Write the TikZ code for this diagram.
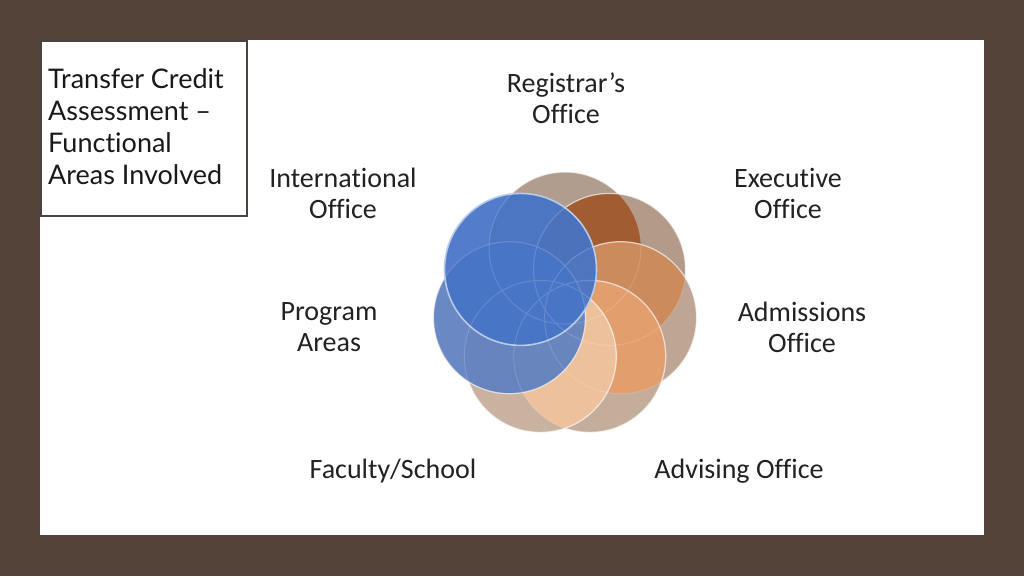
\documentclass[tikz,border=0pt]{standalone}
\usepackage{fontspec}
\setmainfont{Carlito}[Ligatures={TeX,NoCommon,NoRare,NoContextual}]
\newfontfamily\titlefont{Lato}[Ligatures={TeX,NoCommon,NoRare,NoContextual}]
\definecolor{slide}{HTML}{534339}
\definecolor{boxline}{HTML}{4A4440}
\definecolor{ink}{HTML}{222222}
\definecolor{regtan}{HTML}{B09D8E}
\definecolor{exetan}{HTML}{B49A88}
\definecolor{exeover}{HTML}{A15D31}
\definecolor{admtan}{HTML}{BFA594}
\definecolor{admover}{HTML}{CB8B5D}
\definecolor{advtan}{HTML}{C5AD9C}
\definecolor{advover}{HTML}{E39E6D}
\definecolor{factan}{HTML}{C9B2A0}
\definecolor{facover}{HTML}{EEC19D}
\definecolor{prgblue}{HTML}{6282C0}
\definecolor{intblue}{HTML}{4674C7}
\definecolor{intrim}{HTML}{B8CAEA}
\tikzset{
  areaname/.style={inner sep=0pt, align=center, text=ink,
    font=\fontsize{28}{31}\selectfont},
  petal/.style={draw=white, draw opacity=0.6, line width=1.2pt},
}
\begin{document}
\begin{tikzpicture}[x=1pt, y=-1pt]
    \useasboundingbox (0,0) rectangle (1024,576);
    \fill [slide] (0,0) rectangle (1024,576);
    \fill [white] (40,40) rectangle (984,535);
    \draw [fill=white, draw=boxline, line width=2.5pt] (41,41) rectangle (247,216);
    \node [inner sep=0pt, anchor=north west, align=left, text=black!90,
      font=\titlefont\fontsize{27}{32}\selectfont] at (48,68) (title)
      {Transfer Credit\\Assessment –\\Functional\\Areas Involved};

    \coordinate (reg) at (565,248);
    \coordinate (exe) at (609.5,269.4);
    \coordinate (adm) at (620.6,317.7);
    \coordinate (adv) at (589.7,356.4);
    \coordinate (fac) at (540.3,356.4);
    \coordinate (prg) at (509.4,317.7);
    \coordinate (int) at (520.5,269.4);

    % registrar
    \fill [regtan] (reg) circle [radius=76pt];
    \draw [petal] (reg) circle [radius=76pt];
    % executive
    \fill [exetan] (exe) circle [radius=76pt];
    \begin{scope}
      \clip (exe) circle [radius=76pt];
      \fill [exeover] (reg) circle [radius=76pt];
    \end{scope}
    \draw [petal] (exe) circle [radius=76pt];
    % admissions
    \fill [admtan] (adm) circle [radius=76pt];
    \begin{scope}
      \clip (adm) circle [radius=76pt];
      \fill [admover] (reg) circle [radius=76pt] (exe) circle [radius=76pt];
    \end{scope}
    \draw [petal] (adm) circle [radius=76pt];
    % advising
    \fill [advtan] (adv) circle [radius=76pt];
    \begin{scope}
      \clip (adv) circle [radius=76pt];
      \fill [advover] (reg) circle [radius=76pt] (exe) circle [radius=76pt]
        (adm) circle [radius=76pt];
    \end{scope}
    \draw [petal] (adv) circle [radius=76pt];
    % faculty
    \fill [factan] (fac) circle [radius=76pt];
    \begin{scope}
      \clip (fac) circle [radius=76pt];
      \fill [facover] (reg) circle [radius=76pt] (exe) circle [radius=76pt]
        (adm) circle [radius=76pt] (adv) circle [radius=76pt];
    \end{scope}
    \draw [petal] (fac) circle [radius=76pt];
    % program and international
    \fill [prgblue, fill opacity=0.95] (prg) circle [radius=76pt];
    \draw [petal] (prg) circle [radius=76pt];
    \fill [intblue, fill opacity=0.93] (int) circle [radius=76pt];
    \draw [draw=intrim, line width=1.6pt] (int) circle [radius=76pt];
    \draw [white, opacity=0.15, line width=1pt] (reg) circle [radius=76pt]
      (exe) circle [radius=76pt] (adm) circle [radius=76pt]
      (adv) circle [radius=76pt] (fac) circle [radius=76pt]
      (prg) circle [radius=76pt];

    \node [areaname] at (566,98) (registrar) {Registrar’s\\Office};
    \node [areaname] at (788,193) (executive) {Executive\\Office};
    \node [areaname] at (343,193) (international) {International\\Office};
    \node [areaname] at (802,327) (admissions) {Admissions\\Office};
    \node [areaname] at (329,327) (program) {Program\\Areas};
    \node [areaname] at (393,471) (faculty) {Faculty/School};
    \node [areaname] at (739,471) (advising) {Advising Office};
\end{tikzpicture}
\end{document}
